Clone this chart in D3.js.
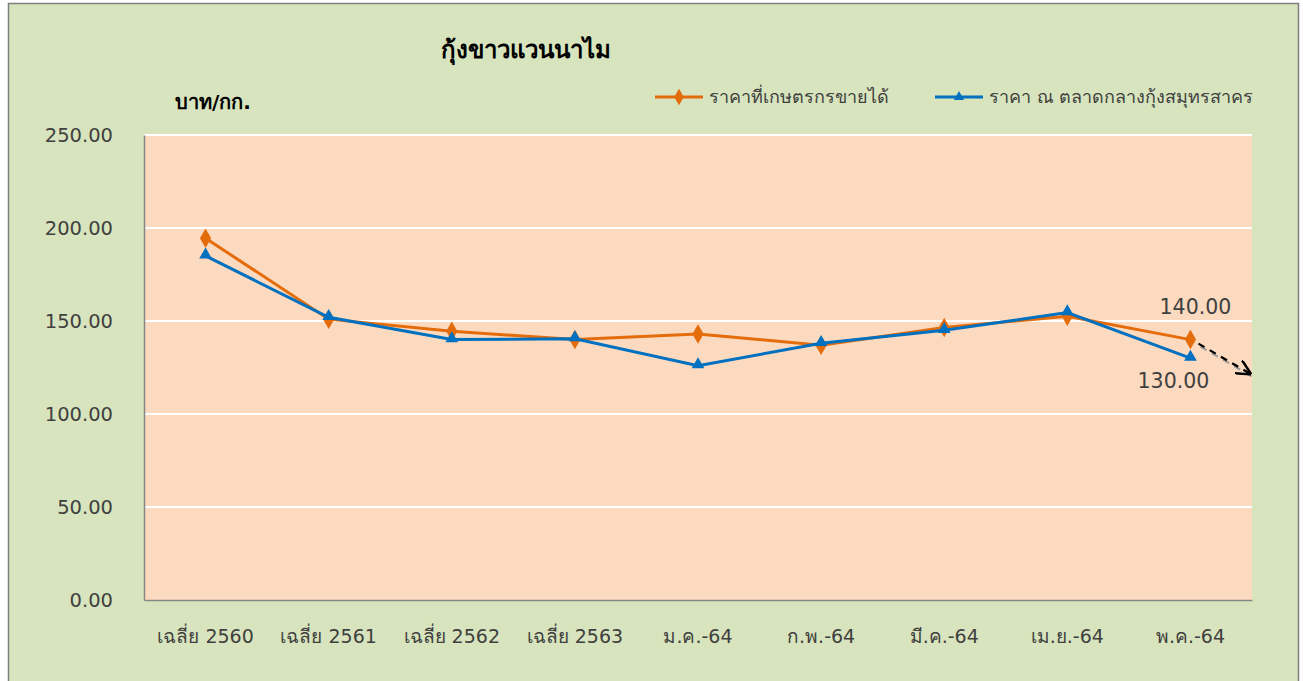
<!DOCTYPE html>
<html>
<head>
<meta charset="utf-8">
<script src="https://cdn.jsdelivr.net/npm/d3@7"></script>
<style>
  body { margin: 0; background: #fff; }
  text { font-family: Tahoma, "DejaVu Sans", "Noto Sans", sans-serif; }
</style>
</head>
<body>
<script>
// กุ้งขาวแวนนาไม chart

var width  = 1303,
    height = 681;

var categories = ["เฉลี่ย 2560", "เฉลี่ย 2561", "เฉลี่ย 2562", "เฉลี่ย 2563",
                  "ม.ค.-64", "ก.พ.-64", "มี.ค.-64", "เม.ย.-64", "พ.ค.-64"];
var farmPrice   = [194.5, 151, 144.5, 140, 143, 137, 146.5, 152.5, 140];
var marketPrice = [185, 152, 140, 140.5, 126, 138, 145, 154.5, 130];
var yTicks = [0, 50, 100, 150, 200, 250];
var seriesNames = ["ราคาที่เกษตรกรขายได้", "ราคา ณ ตลาดกลางกุ้งสมุทรสาคร"];

var margin = {left: 144, top: 135, right: 1252, bottom: 600};

var svg = d3.select("body").append("svg")
    .attr("width", width)
    .attr("height", height);

// outer chart area
svg.append("rect")
    .attr("x", 8.5).attr("y", 3.5)
    .attr("width", 1290).attr("height", 680)
    .attr("fill", "#d7e4bd")
    .attr("stroke", "#7f7f7f")
    .attr("stroke-width", 1.5);

var x = d3.scaleBand()
    .domain(categories)
    .range([margin.left, margin.right]);

var y = d3.scaleLinear()
    .domain([0, 250])
    .range([margin.bottom, margin.top]);

// plot area
svg.append("rect")
    .attr("x", margin.left).attr("y", margin.top)
    .attr("width", margin.right - margin.left)
    .attr("height", margin.bottom - margin.top)
    .attr("fill", "#fcdac0");

// gridlines
svg.append("g").selectAll("line")
  .data(yTicks.slice(1))
  .enter().append("line")
  .attr("x1", margin.left).attr("x2", margin.right)
  .attr("y1", function(d) { return y(d); })
  .attr("y2", function(d) { return y(d); })
  .attr("stroke", "#ffffff")
  .attr("stroke-width", 2);

// y axis
var yAxis = svg.append("g")
    .attr("transform", "translate(" + margin.left + ",0)")
    .call(d3.axisLeft(y).tickValues(yTicks).tickSize(0).tickPadding(31)
      .tickFormat(d3.format(".2f")));
yAxis.select(".domain").attr("stroke", "#868686").attr("stroke-width", 1.5);
yAxis.selectAll("text")
    .attr("font-size", 19.5)
    .attr("fill", "#404040");

// x axis
var xAxis = svg.append("g")
    .attr("transform", "translate(0," + margin.bottom + ")")
    .call(d3.axisBottom(x).tickSize(0).tickPadding(30));
xAxis.select(".domain").attr("stroke", "#868686").attr("stroke-width", 1.5);
xAxis.selectAll("text")
    .attr("font-size", 19)
    .attr("fill", "#404040");

var cx = function(d, i) { return x(categories[i]) + x.bandwidth() / 2; };

var line = d3.line()
    .x(cx)
    .y(function(d) { return y(d); });

// farm price (orange, diamonds)
svg.append("path")
    .datum(farmPrice)
    .attr("d", line)
    .attr("fill", "none")
    .attr("stroke", "#e46c0a")
    .attr("stroke-width", 3);

svg.append("g").selectAll("path")
  .data(farmPrice)
  .enter().append("path")
  .attr("d", d3.symbol().type(d3.symbolDiamond).size(110))
  .attr("transform", function(d, i) { return "translate(" + cx(d, i) + "," + y(d) + ")"; })
  .attr("fill", "#e46c0a");

// market price (blue, triangles)
svg.append("path")
    .datum(marketPrice)
    .attr("d", line)
    .attr("fill", "none")
    .attr("stroke", "#0070c0")
    .attr("stroke-width", 3);

svg.append("g").selectAll("path")
  .data(marketPrice)
  .enter().append("path")
  .attr("d", d3.symbol().type(d3.symbolTriangle).size(70))
  .attr("transform", function(d, i) { return "translate(" + cx(d, i) + "," + (y(d) - 1) + ")"; })
  .attr("fill", "#0070c0");

// data labels on the last point
var last = categories.length - 1;
svg.append("text")
    .attr("x", cx(farmPrice[last], last) + 5)
    .attr("y", y(farmPrice[last]) - 26)
    .attr("text-anchor", "middle")
    .attr("font-size", 20.5)
    .attr("fill", "#404040")
    .text(farmPrice[last].toFixed(2));
svg.append("text")
    .attr("x", cx(marketPrice[last], last) - 17)
    .attr("y", y(marketPrice[last]) + 30)
    .attr("text-anchor", "middle")
    .attr("font-size", 20.5)
    .attr("fill", "#404040")
    .text(marketPrice[last].toFixed(2));

// dashed trend arrow
var ax1 = cx(0, last) + 8, ay1 = y(farmPrice[last]) + 4,
    ax2 = margin.right - 2, ay2 = y(farmPrice[last]) + 34;
svg.append("defs").append("marker")
    .attr("id", "arr")
    .attr("viewBox", "0 0 10 10")
    .attr("refX", 9).attr("refY", 5)
    .attr("markerWidth", 7).attr("markerHeight", 7)
    .attr("orient", "auto")
  .append("path")
    .attr("d", "M0,0 L10,5 L0,10")
    .attr("fill", "none")
    .attr("stroke", "#000")
    .attr("stroke-width", 1.6);
svg.append("line")
    .attr("x1", ax1 + 2).attr("y1", ay1 + 3)
    .attr("x2", ax2 + 2).attr("y2", ay2 + 3)
    .attr("stroke", "#999")
    .attr("stroke-width", 2)
    .attr("stroke-dasharray", "7,6");
svg.append("line")
    .attr("x1", ax1).attr("y1", ay1)
    .attr("x2", ax2).attr("y2", ay2)
    .attr("stroke", "#000")
    .attr("stroke-width", 2.2)
    .attr("stroke-dasharray", "7,6")
    .attr("marker-end", "url(#arr)");

// title
svg.append("text")
    .attr("x", 526).attr("y", 58)
    .attr("text-anchor", "middle")
    .attr("font-size", 24)
    .attr("font-weight", "bold")
    .attr("fill", "#000")
    .text("กุ้งขาวแวนนาไม");

// unit label
svg.append("text")
    .attr("x", 175).attr("y", 109)
    .attr("font-size", 20)
    .attr("font-weight", "bold")
    .attr("fill", "#000")
    .text("บาท/กก.");

// legend
var legend = [
  {name: seriesNames[0], color: "#e46c0a", sym: d3.symbolDiamond, size: 80, x: 655},
  {name: seriesNames[1], color: "#0070c0", sym: d3.symbolTriangle, size: 45, x: 935}
];
var lg = svg.append("g").selectAll("g")
  .data(legend)
  .enter().append("g")
  .attr("transform", function(d) { return "translate(" + d.x + ",97)"; });
lg.append("line")
    .attr("x1", 0).attr("x2", 48)
    .attr("stroke", function(d) { return d.color; })
    .attr("stroke-width", 3);
lg.append("path")
    .attr("d", function(d) { return d3.symbol().type(d.sym).size(d.size)(); })
    .attr("transform", "translate(24,0)")
    .attr("fill", function(d) { return d.color; });
lg.append("text")
    .attr("x", 54).attr("y", 6)
    .attr("font-size", 18)
    .attr("fill", "#404040")
    .text(function(d) { return d.name; });
</script>
</body>
</html>
